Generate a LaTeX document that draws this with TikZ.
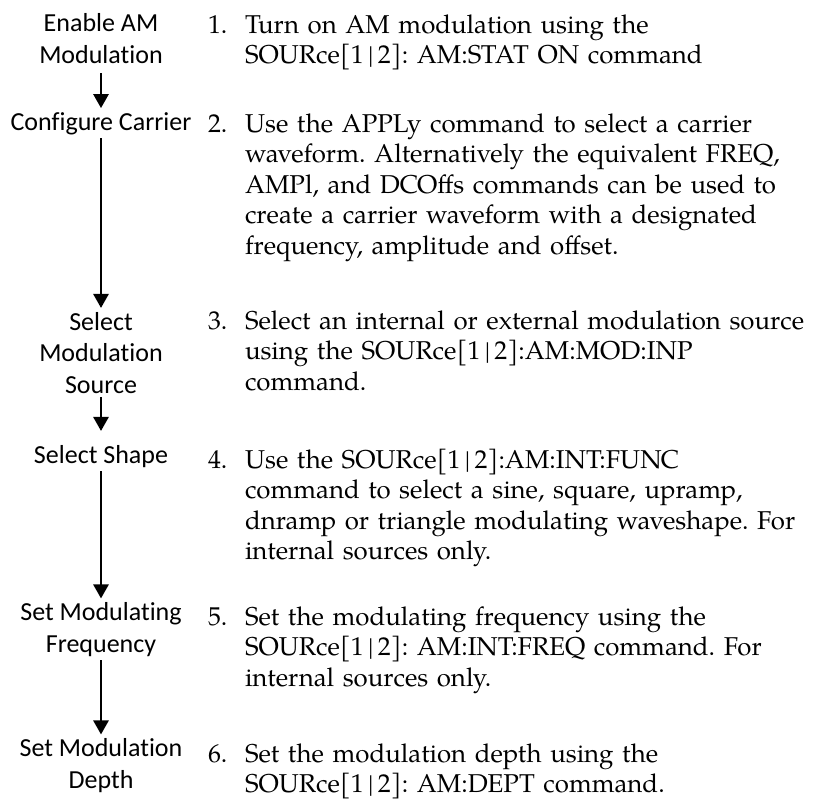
\documentclass[tikz,border=0pt]{standalone}
\usepackage{fontspec}
\setmainfont{TeX Gyre Pagella}
\newfontfamily\flowfont[Ligatures=NoCommon, Contextuals=NoAlternate]{Carlito}
\usetikzlibrary{arrows.meta}
\frenchspacing

\begin{document}
\begin{tikzpicture}[x=0.5pt, y=-0.5pt,
  every node/.style={inner sep=0pt, outer sep=0pt},
  flowlbl/.style={anchor=base, align=center, inner sep=2pt,
    font=\flowfont\fontsize{13}{15.75}\selectfont},
  itemnum/.style={anchor=base west, font=\fontsize{12.9}{15.25}\selectfont},
  itemtxt/.style={anchor=base west, align=left, text width=300pt,
    font=\fontsize{12.9}{15.25}\selectfont},
  flowarrow/.style={line width=1.35pt, -{Triangle[width=7.5pt, length=7pt]}}]

  \useasboundingbox (0,0) rectangle (815,805);

  % flow steps on the left (multi-line labels sit on their last line)
  \node[flowlbl] (enable)  at (101,63)  {Enable AM\\Modulation};
  \node[flowlbl] (carrier) at (101,130) {Configure Carrier};
  \node[flowlbl] (source)  at (101,393) {Select\\Modulation\\Source};
  \node[flowlbl] (shape)   at (101,463) {Select Shape};
  \node[flowlbl] (freq)    at (101,652) {Set Modulating\\Frequency};
  \node[flowlbl] (depth)   at (101,788) {Set Modulation\\Depth};

  \draw[flowarrow, shorten <=3pt] (enable)  -- (carrier);
  \draw[flowarrow] (carrier) -- (source);
  \draw[flowarrow, shorten >=5pt] (source)  -- (shape);
  \draw[flowarrow] (shape)   -- (freq);
  \draw[flowarrow] (freq)    -- (depth);

  % numbered descriptions
  \node[itemnum] (n1) at (208,33)  {1.};
  \node[itemnum] (n2) at (208,132) {2.};
  \node[itemnum] (n3) at (208,329) {3.};
  \node[itemnum] (n4) at (208,468) {4.};
  \node[itemnum] (n5) at (208,625) {5.};
  \node[itemnum] (n6) at (208,762) {6.};

  \node[itemtxt] (t1) at (245,33) {Turn on AM modulation using the\\
    SOURce[1\,|\,2]: AM:STAT ON command};
  \node[itemtxt] (t2) at (245,132) {Use the APPLy command to select a carrier\\
    waveform. Alternatively the equivalent FREQ,\\
    AMPl, and DCOffs commands can be used to\\
    create a carrier waveform with a designated\\
    frequency, amplitude and offset.};
  \node[itemtxt] (t3) at (245,329) {Select an internal or external modulation source\\
    using the SOURce[1\,|\,2]:AM:MOD:INP\\
    command.};
  \node[itemtxt] (t4) at (245,468) {Use the SOURce[1\,|\,2]:AM:INT:FUNC\\
    command to select a sine, square, upramp,\\
    dnramp or triangle modulating waveshape. For\\
    internal sources only.};
  \node[itemtxt] (t5) at (245,625) {Set the modulating frequency using the\\
    SOURce[1\,|\,2]: AM:INT:FREQ command. For\\
    internal sources only.};
  \node[itemtxt] (t6) at (245,762) {Set the modulation depth using the\\
    SOURce[1\,|\,2]: AM:DEPT command.};
\end{tikzpicture}
\end{document}
